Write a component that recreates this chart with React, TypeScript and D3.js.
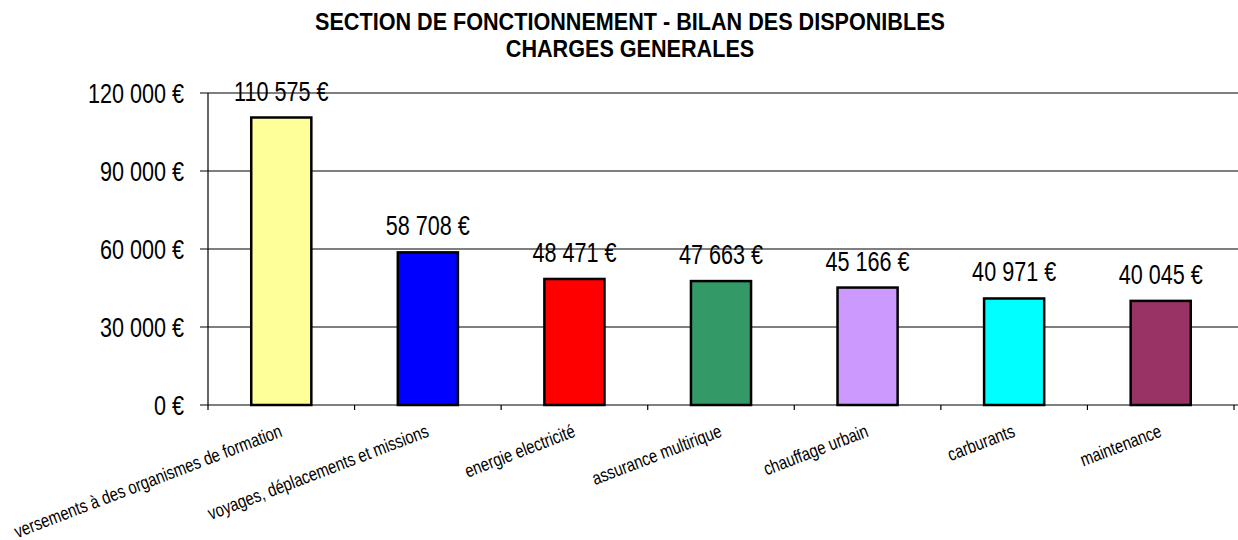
import React, { useEffect, useRef } from 'react';
import * as d3 from 'd3';

// chart data
const categories = [
  'versements à des organismes de formation',
  'voyages, déplacements et missions',
  'energie electricité',
  'assurance multirique',
  'chauffage urbain',
  'carburants',
  'maintenance',
];
const values = [110575, 58708, 48471, 47663, 45166, 40971, 40045];
const barColors = ['#FFFF99', '#0000FF', '#FF0000', '#339966', '#CC99FF', '#00FFFF', '#993366'];
const yTicks = [0, 30000, 60000, 90000, 120000];
const titleLines = ['SECTION DE FONCTIONNEMENT - BILAN DES DISPONIBLES', 'CHARGES GENERALES'];

const FONT = '"Liberation Sans", Arial, sans-serif';
const NARROW = 0.8; // no narrow font installed, squeeze the glyphs instead

const fmt = (v: number) => d3.format(',')(v).replace(/,/g, ' ') + ' €';

const App = () => {
  const ref = useRef<SVGSVGElement>(null);

  useEffect(() => {
    const width = 1238;
    const height = 540;
    const margin = { left: 208, right: 4, top: 93, bottom: 135 };
    const svg = d3.select(ref.current);
    svg.selectAll('*').remove();

    const x = d3.scaleBand<string>()
      .domain(categories)
      .range([margin.left, width - margin.right])
      .paddingInner(0.59)
      .paddingOuter(0.295);
    const y = d3.scaleLinear().domain([0, 120000]).range([height - margin.bottom, margin.top]);

    // title
    svg.append('g').selectAll('g').data(titleLines).enter().append('g')
      .attr('transform', (d: string, i: number) => 'translate(630,' + (30 + i * 27) + ')')
      .append('text')
      .attr('transform', 'scale(0.9,1)')
      .attr('text-anchor', 'middle')
      .style('font-family', FONT)
      .style('font-weight', 'bold')
      .style('font-size', '24px')
      .text((d: string) => d);

    // gridlines
    svg.append('g').selectAll('line').data(yTicks).enter().append('line')
      .attr('x1', margin.left - 8)
      .attr('x2', width)
      .attr('y1', (d: number) => y(d))
      .attr('y2', (d: number) => y(d))
      .attr('stroke', '#000')
      .attr('stroke-width', 1.2);

    // y axis line
    svg.append('line')
      .attr('x1', margin.left).attr('x2', margin.left)
      .attr('y1', y(120000)).attr('y2', y(0) + 5)
      .attr('stroke', '#000').attr('stroke-width', 1.2);

    // y tick labels
    svg.append('g').selectAll('g').data(yTicks).enter().append('g')
      .attr('transform', (d: number) => 'translate(184,' + y(d) + ')')
      .append('text')
      .attr('transform', 'scale(' + NARROW + ',1)')
      .attr('dy', '0.36em')
      .attr('text-anchor', 'end')
      .style('font-family', FONT)
      .style('font-size', '27px')
      .text((d: number) => fmt(d));

    // x ticks between categories
    const step = x.step();
    const bounds = d3.range(1, categories.length + 1).map((i: number) => margin.left + i * step);
    svg.append('g').selectAll('line').data(bounds).enter().append('line')
      .attr('x1', (d: number) => d).attr('x2', (d: number) => d)
      .attr('y1', y(0)).attr('y2', y(0) + 5)
      .attr('stroke', '#000').attr('stroke-width', 1.2);

    // bars
    svg.append('g').selectAll('rect').data(values).enter().append('rect')
      .attr('x', (d: number, i: number) => x(categories[i]) as number)
      .attr('y', (d: number) => y(d))
      .attr('width', x.bandwidth())
      .attr('height', (d: number) => y(0) - y(d))
      .attr('fill', (d: number, i: number) => barColors[i])
      .attr('stroke', '#000')
      .attr('stroke-width', 2.5);

    // value labels
    svg.append('g').selectAll('g').data(values).enter().append('g')
      .attr('transform', (d: number, i: number) =>
        'translate(' + ((x(categories[i]) as number) + x.bandwidth() / 2) + ',' + (y(d) - 17) + ')')
      .append('text')
      .attr('transform', 'scale(' + NARROW + ',1)')
      .attr('text-anchor', 'middle')
      .style('font-family', FONT)
      .style('font-size', '27px')
      .text((d: number) => fmt(d));

    // category labels, rotated
    svg.append('g').selectAll('g').data(categories).enter().append('g')
      .attr('transform', (d: string) => {
        const cx = (x(d) as number) + x.bandwidth() / 2 + 2;
        return 'translate(' + cx + ',' + (y(0) + 31) + ') rotate(-21)';
      })
      .append('text')
      .attr('transform', 'scale(' + NARROW + ',1)')
      .attr('text-anchor', 'end')
      .style('font-family', FONT)
      .style('font-size', '18.6px')
      .text((d: string) => d);
  }, []);

  return (
    <svg ref={ref} width={1238} height={540}
      style={{ position: 'absolute', left: 0, top: 0, background: '#fff' }} />
  );
};

export default App;
